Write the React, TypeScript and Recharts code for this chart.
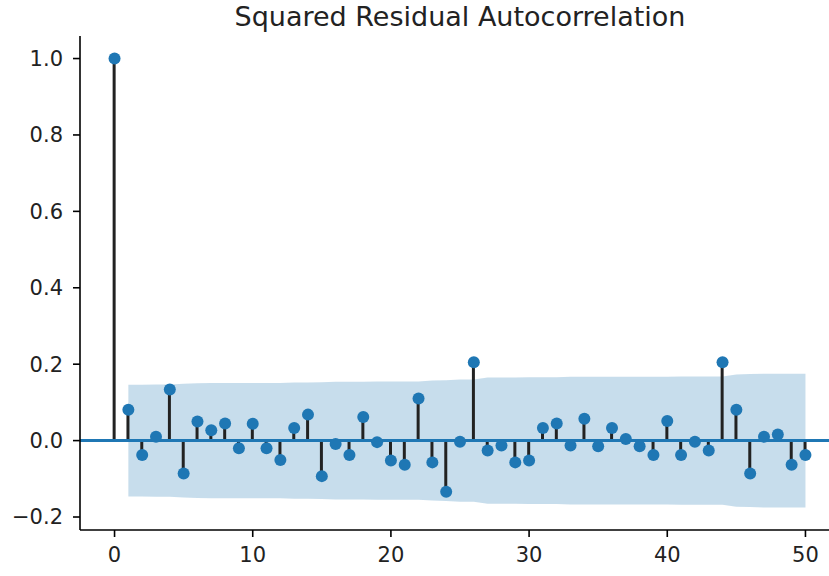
import { ComposedChart, XAxis, YAxis, Bar, Scatter, Area, ReferenceLine } from 'recharts';

// --- squared residual ACF, lags 0..50 ---
const lags = Array.from({ length: 51 }, (_, i) => i);

const acfValues = [
    1.0, 0.081, -0.038, 0.010, 0.134, -0.086, 0.050, 0.027, 0.045, -0.020,
    0.044, -0.020, -0.051, 0.033, 0.068, -0.093, -0.009, -0.038, 0.062, -0.004,
    -0.052, -0.063, 0.110, -0.057, -0.134, -0.003, 0.205, -0.026, -0.013, -0.057,
    -0.052, 0.033, 0.045, -0.013, 0.057, -0.015, 0.033, 0.004, -0.015, -0.038,
    0.051, -0.038, -0.003, -0.026, 0.205, 0.081, -0.086, 0.010, 0.016, -0.063,
    -0.038,
];

// half-width of the confidence band (null at lag 0, no band there)
const bandWidth = [
    null, 0.146, 0.146, 0.147, 0.147, 0.149, 0.150, 0.151, 0.151, 0.151,
    0.151, 0.151, 0.151, 0.152, 0.152, 0.153, 0.154, 0.154, 0.154, 0.155,
    0.155, 0.155, 0.155, 0.157, 0.158, 0.160, 0.160, 0.165, 0.165, 0.165,
    0.166, 0.166, 0.166, 0.167, 0.167, 0.167, 0.167, 0.167, 0.167, 0.167,
    0.167, 0.168, 0.168, 0.168, 0.168, 0.173, 0.174, 0.175, 0.175, 0.175,
    0.175,
];

const xTicks = [0, 10, 20, 30, 40, 50];
const yTicks = [-0.2, 0.0, 0.2, 0.4, 0.6, 0.8, 1.0];

const BLUE = '#1f77b4';
const FONT = '"DejaVu Sans", sans-serif';

const data = lags.map((lag, i) => ({
    lag,
    acf: acfValues[i],
    band: bandWidth[i] == null ? null : [-bandWidth[i], bandWidth[i]],
}));

const Dot = (props: any) => {
    if (props.cx == null || props.cy == null) return null;
    return <circle cx={props.cx} cy={props.cy} r={6} fill={BLUE} />;
};

export default function App() {
    return (
        <div style={{ position: 'fixed', left: 0, top: 0, width: 829, height: 576, overflow: 'hidden', background: '#fff' }}>
            <div
                style={{
                    position: 'absolute', left: 80, width: 760, top: 0, textAlign: 'center',
                    fontFamily: FONT, fontSize: 27, lineHeight: '34px', color: '#222',
                }}
            >
                Squared Residual Autocorrelation
            </div>
            <ComposedChart
                width={840}
                height={576}
                data={data}
                margin={{ top: 36, right: 0, bottom: 0, left: 0 }}
                style={{ fontFamily: FONT }}
            >
                <XAxis
                    xAxisId="top"
                    orientation="top"
                    type="number"
                    dataKey="lag"
                    domain={[-2.5, 52.5]}
                    allowDataOverflow
                    height={0}
                    tick={false}
                    tickLine={false}
                    axisLine={{ stroke: '#000', strokeWidth: 1.6 }}
                />
                <XAxis
                    type="number"
                    dataKey="lag"
                    domain={[-2.5, 52.5]}
                    allowDataOverflow
                    ticks={xTicks}
                    height={46}
                    tickSize={7}
                    tickMargin={10}
                    tick={{ fill: '#222', fontSize: 21 }}
                    axisLine={{ stroke: '#000', strokeWidth: 1.6 }}
                    tickLine={{ stroke: '#000', strokeWidth: 1.6 }}
                />
                <YAxis
                    type="number"
                    domain={[-0.234, 1.059]}
                    allowDataOverflow
                    ticks={yTicks}
                    width={80}
                    tickSize={7}
                    tickMargin={10}
                    tickFormatter={(v: number) => v.toFixed(1).replace('-', '\u2212')}
                    tick={{ fill: '#222', fontSize: 21 }}
                    axisLine={{ stroke: '#000', strokeWidth: 1.6 }}
                    tickLine={{ stroke: '#000', strokeWidth: 1.6 }}
                />
                <Area
                    dataKey="band"
                    type="linear"
                    stroke="none"
                    fill={BLUE}
                    fillOpacity={0.25}
                    isAnimationActive={false}
                    activeDot={false}
                    dot={false}
                />
                <Bar dataKey="acf" barSize={3} fill="#222" isAnimationActive={false} />
                <ReferenceLine y={0} stroke={BLUE} strokeWidth={3} />
                <Scatter dataKey="acf" shape={<Dot />} isAnimationActive={false} />
            </ComposedChart>
        </div>
    );
}
